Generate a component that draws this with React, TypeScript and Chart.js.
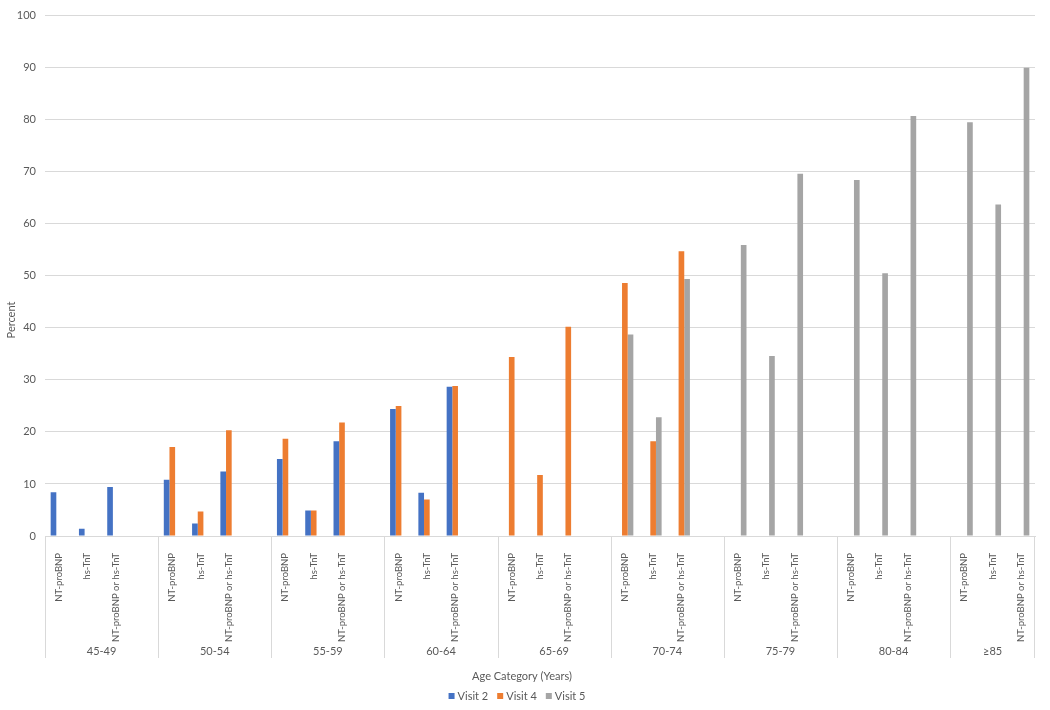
import React, { useEffect, useRef } from "react";
import { Chart, registerables } from "chart.js";

Chart.register(...registerables);

const AGE_GROUPS = ["45-49", "50-54", "55-59", "60-64", "65-69", "70-74", "75-79", "80-84", "≥85"];
const MARKERS = ["NT-proBNP", "hs-TnT", "NT-proBNP or hs-TnT"];
const SERIES_NAMES = ["Visit 2", "Visit 4", "Visit 5"];
const SERIES_COLORS = ["#4472C4", "#ED7D31", "#A5A5A5"];
const Y_TICKS = [0, 10, 20, 30, 40, 50, 60, 70, 80, 90, 100];

// values per age group: [NT-proBNP, hs-TnT, NT-proBNP or hs-TnT]
const VISIT2 = [
  [8.4, 1.4, 9.4],
  [10.8, 2.4, 12.4],
  [14.8, 4.9, 18.2],
  [24.4, 8.3, 28.7],
  [null, null, null],
  [null, null, null],
  [null, null, null],
  [null, null, null],
  [null, null, null],
];
const VISIT4 = [
  [null, null, null],
  [17.1, 4.7, 20.3],
  [18.7, 4.9, 21.8],
  [25.0, 7.0, 28.8],
  [34.4, 11.7, 40.2],
  [48.6, 18.2, 54.7],
  [null, null, null],
  [null, null, null],
  [null, null, null],
];
const VISIT5 = [
  [null, null, null],
  [null, null, null],
  [null, null, null],
  [null, null, null],
  [null, null, null],
  [38.7, 22.8, 49.4],
  [55.9, 34.6, 69.6],
  [68.4, 50.5, 80.7],
  [79.5, 63.7, 90.0],
];

const FONT = "Lato, 'Liberation Sans', sans-serif";
const TEXT = "#595959";
const GRID = "#d9d9d9";

// 4 slots per group (3 markers + a blank spacer), except after the last group
function buildLabels(): string[] {
  const out: string[] = [];
  AGE_GROUPS.forEach((_, gi) => {
    MARKERS.forEach((m) => out.push(m));
    if (gi < AGE_GROUPS.length - 1) out.push("");
  });
  return out;
}
function buildSeries(rows: (number | null)[][]): (number | null)[] {
  const out: (number | null)[] = [];
  rows.forEach((r, gi) => {
    r.forEach((v) => out.push(v));
    if (gi < rows.length - 1) out.push(null);
  });
  return out;
}

const decorPlugin = {
  id: "decor",
  afterDraw(chart: any) {
    const { ctx, chartArea, scales } = chart;
    const x = scales.x;
    const slot = x.getPixelForValue(1) - x.getPixelForValue(0);
    const bottom = chartArea.bottom;
    ctx.save();
    ctx.strokeStyle = GRID;
    ctx.lineWidth = 1;
    ctx.fillStyle = TEXT;
    ctx.font = `11px ${FONT}`;
    ctx.textAlign = "center";
    ctx.textBaseline = "middle";
    AGE_GROUPS.forEach((g, gi) => {
      const start = x.getPixelForValue(gi * 4) - slot / 2;
      const end = gi === AGE_GROUPS.length - 1 ? chartArea.right : x.getPixelForValue(gi * 4 + 3) + slot / 2;
      const sx = Math.round(start) + 0.5;
      ctx.beginPath();
      ctx.moveTo(sx, bottom);
      ctx.lineTo(sx, bottom + 122);
      ctx.stroke();
      ctx.fillText(g, (start + end) / 2, bottom + 115);
    });
    const rx = Math.round(chartArea.right) - 0.5;
    ctx.beginPath();
    ctx.moveTo(rx, bottom);
    ctx.lineTo(rx, bottom + 122);
    ctx.stroke();

    // axis titles
    ctx.font = `11px ${FONT}`;
    ctx.fillText("Age Category (Years)", 522, 676);
    ctx.save();
    ctx.translate(11, 320);
    ctx.rotate(-Math.PI / 2);
    ctx.fillText("Percent", 0, 0);
    ctx.restore();

    // legend
    ctx.font = `11px ${FONT}`;
    ctx.textAlign = "left";
    const box = 6;
    const gapBox = 3;
    const gapItem = 9;
    const widths = chart.data.datasets.map((d: any) => box + gapBox + ctx.measureText(d.label).width);
    const total = widths.reduce((a: number, b: number) => a + b, 0) + gapItem * (widths.length - 1);
    let lx = 517 - total / 2;
    const ly = 696;
    chart.data.datasets.forEach((d: any, i: number) => {
      ctx.fillStyle = d.backgroundColor;
      ctx.fillRect(lx, ly - box / 2, box, box);
      ctx.fillStyle = TEXT;
      ctx.fillText(d.label, lx + box + gapBox, ly);
      lx += widths[i] + gapItem;
    });
    ctx.restore();
  },
};

export default function App() {
  const ref = useRef<HTMLCanvasElement | null>(null);
  useEffect(() => {
    if (!ref.current) return;
    const labels = buildLabels();
    const seriesRows = [VISIT2, VISIT4, VISIT5];
    const chart = new Chart(ref.current, {
      type: "bar",
      data: {
        labels,
        datasets: SERIES_NAMES.map((name, i) => ({
          label: name,
          data: buildSeries(seriesRows[i]),
          backgroundColor: SERIES_COLORS[i],
          borderWidth: 0,
          categoryPercentage: 0.6,
          barPercentage: 1,
        })),
      },
      options: {
        responsive: false,
        animation: false,
        devicePixelRatio: 1,
        layout: { padding: { left: 0, right: 15, top: 13, bottom: 0 } },
        plugins: {
          legend: { display: false },
          tooltip: { enabled: false },
        },
        scales: {
          x: {
            grid: { display: false },
            border: { display: true, color: GRID, width: 1 },
            ticks: {
              autoSkip: false,
              maxRotation: 90,
              minRotation: 90,
              padding: 9,
              color: TEXT,
              font: { family: FONT, size: 9.5 },
            },
            afterFit: (s: any) => {
              s.height = 174;
            },
          },
          y: {
            min: 0,
            max: 100,
            afterBuildTicks: (s: any) => {
              s.ticks = Y_TICKS.map((v) => ({ value: v }));
            },
            grid: { color: GRID, drawTicks: false },
            border: { display: false },
            ticks: {
              padding: 9,
              color: TEXT,
              font: { family: FONT, size: 11 },
            },
            afterFit: (s: any) => {
              s.width = 45;
            },
          },
        },
      },
      plugins: [decorPlugin],
    });
    return () => chart.destroy();
  }, []);
  return (
    <div style={{ position: "absolute", left: 0, top: 0, width: 1050, height: 710, background: "#fff" }}>
      <canvas ref={ref} width={1050} height={710} />
    </div>
  );
}
